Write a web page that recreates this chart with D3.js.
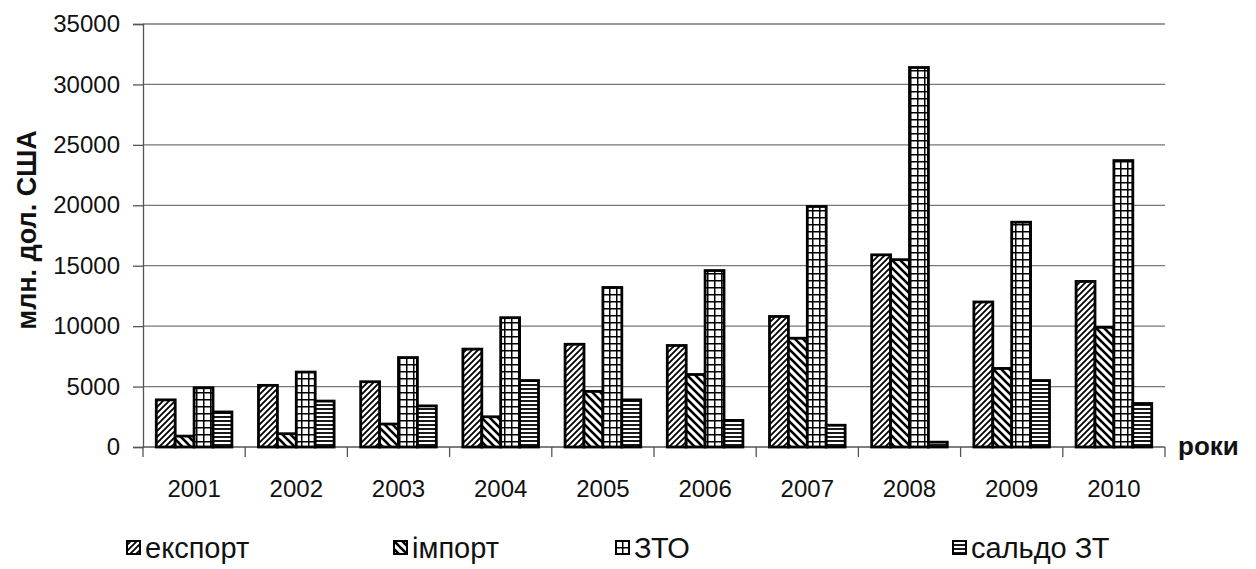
<!DOCTYPE html>
<html>
<head>
<meta charset="utf-8">
<script src="https://cdn.jsdelivr.net/npm/d3@7"></script>
<style>
  body { margin: 0; background: #fff; }
  text { font-family: "Liberation Sans", Arial, sans-serif; }
</style>
</head>
<body>
<svg id="chart" width="1256" height="569"></svg>
<script>
let years = ['2001', '2002', '2003', '2004', '2005', '2006', '2007', '2008', '2009', '2010'];
let seriesNames = ['експорт', 'імпорт', 'ЗТО', 'сальдо ЗТ'];
let exportVals = [3900, 5100, 5400, 8100, 8500, 8400, 10800, 15900, 12000, 13700];
let importVals = [900, 1100, 1900, 2500, 4600, 6000, 9000, 15500, 6500, 9900];
let ztoVals = [4900, 6200, 7400, 10700, 13200, 14600, 19900, 31400, 18600, 23700];
let saldoVals = [2900, 3800, 3400, 5500, 3900, 2200, 1800, 400, 5500, 3600];
let yTicks = [0, 5000, 10000, 15000, 20000, 25000, 30000, 35000];

let allSeries = [exportVals, importVals, ztoVals, saldoVals];
let patIds = ['pExp', 'pImp', 'pZto', 'pSal'];

let svg = d3.select('#chart');
let defs = svg.append('defs');

// patterns ---------------------------------------------------------------
let p1 = defs.append('pattern').attr('id', 'pExp').attr('patternUnits', 'userSpaceOnUse')
    .attr('width', 6).attr('height', 6);
p1.append('rect').attr('width', 6).attr('height', 6).attr('fill', '#fff');
p1.append('path').attr('d', 'M-1,7 L7,-1 M-4,4 L4,-4 M2,10 L10,2')
    .attr('stroke', '#000').attr('stroke-width', 1.8);

let p2 = defs.append('pattern').attr('id', 'pImp').attr('patternUnits', 'userSpaceOnUse')
    .attr('width', 8).attr('height', 8);
p2.append('rect').attr('width', 8).attr('height', 8).attr('fill', '#fff');
p2.append('path').attr('d', 'M-1,-1 L9,9 M-5,3 L5,13 M3,-5 L13,5')
    .attr('stroke', '#000').attr('stroke-width', 2.6);

let p3 = defs.append('pattern').attr('id', 'pZto').attr('patternUnits', 'userSpaceOnUse')
    .attr('width', 7).attr('height', 7);
p3.append('rect').attr('width', 7).attr('height', 7).attr('fill', '#fff');
p3.append('path').attr('d', 'M0,0 H7 M0,0 V7')
    .attr('stroke', '#000').attr('stroke-width', 3);

let p4 = defs.append('pattern').attr('id', 'pSal').attr('patternUnits', 'userSpaceOnUse')
    .attr('width', 4).attr('height', 4);
p4.append('rect').attr('width', 4).attr('height', 4).attr('fill', '#fff');
p4.append('path').attr('d', 'M0,1 H4').attr('stroke', '#000').attr('stroke-width', 1.8);

// scales ------------------------------------------------------------------
let x = d3.scaleBand().domain(years).range([143, 1165]).padding(0);
let xInner = d3.scaleBand().domain(d3.range(4))
    .range([x.bandwidth() * 0.13, x.bandwidth() * 0.87]).padding(0);
let y = d3.scaleLinear().domain([0, 35000]).range([447, 24]);

// grid
svg.append('g').selectAll('line').data(yTicks.slice(1)).enter().append('line')
    .attr('x1', 143).attr('x2', 1165)
    .attr('y1', (d) => y(d)).attr('y2', (d) => y(d))
    .attr('stroke', '#777').attr('stroke-width', 1.3);

// y axis
let yAxis = d3.axisLeft(y).tickValues(yTicks).tickSize(10).tickPadding(13).tickFormat(d3.format('d'));
let gy = svg.append('g').attr('transform', 'translate(143,0)').call(yAxis);
gy.select('.domain').attr('stroke', '#555').attr('stroke-width', 1.3);
gy.selectAll('.tick line').attr('stroke', '#555').attr('stroke-width', 1.3);
gy.selectAll('.tick text').attr('font-size', 24).attr('fill', '#111')
    .attr('font-family', '"Liberation Sans", Arial, sans-serif');

// x axis ticks at band edges
let xEdges = years.map((d) => x(d)).concat([x(years[years.length - 1]) + x.bandwidth()]);
svg.append('line').attr('x1', 143).attr('x2', 1165).attr('y1', y(0)).attr('y2', y(0))
    .attr('stroke', '#555').attr('stroke-width', 1.3);
svg.append('g').selectAll('line').data(xEdges).enter().append('line')
    .attr('x1', (d) => d).attr('x2', (d) => d)
    .attr('y1', y(0)).attr('y2', y(0) + 10)
    .attr('stroke', '#555').attr('stroke-width', 1.3);
svg.append('g').selectAll('text').data(years).enter().append('text')
    .attr('x', (d) => x(d) + x.bandwidth() / 2)
    .attr('y', 497)
    .attr('text-anchor', 'middle')
    .attr('font-size', 24).attr('fill', '#111')
    .text((d) => d);

// bars --------------------------------------------------------------------
allSeries.forEach((vals, si) => {
    svg.append('g').selectAll('rect').data(vals).enter().append('rect')
        .attr('x', (d, i) => x(years[i]) + xInner(si))
        .attr('y', (d) => y(d))
        .attr('width', xInner.bandwidth())
        .attr('height', (d) => y(0) - y(d))
        .attr('fill', 'url(#' + patIds[si] + ')')
        .attr('stroke', '#000')
        .attr('stroke-width', 2.8);
});

// titles
svg.append('text')
    .attr('transform', 'translate(36,230) rotate(-90)')
    .attr('text-anchor', 'middle')
    .attr('font-size', 27).attr('font-weight', 'bold').attr('fill', '#111')
    .text('млн. дол. США');
svg.append('text')
    .attr('x', 1178).attr('y', 455)
    .attr('font-size', 26).attr('font-weight', 'bold').attr('fill', '#111')
    .text('роки');

// legend
let legX = [126, 393, 615, 952];
let leg = svg.append('g').selectAll('g').data(seriesNames).enter().append('g')
    .attr('transform', (d, i) => 'translate(' + legX[i] + ',540)');
leg.append('rect').attr('x', 1).attr('y', 1).attr('width', 13).attr('height', 13)
    .attr('fill', (d, i) => 'url(#' + patIds[i] + ')')
    .attr('stroke', '#000').attr('stroke-width', 2);
leg.append('text').attr('x', 19).attr('y', 18)
    .attr('font-size', 29).attr('fill', '#111')
    .text((d) => d);
</script>
</body>
</html>
